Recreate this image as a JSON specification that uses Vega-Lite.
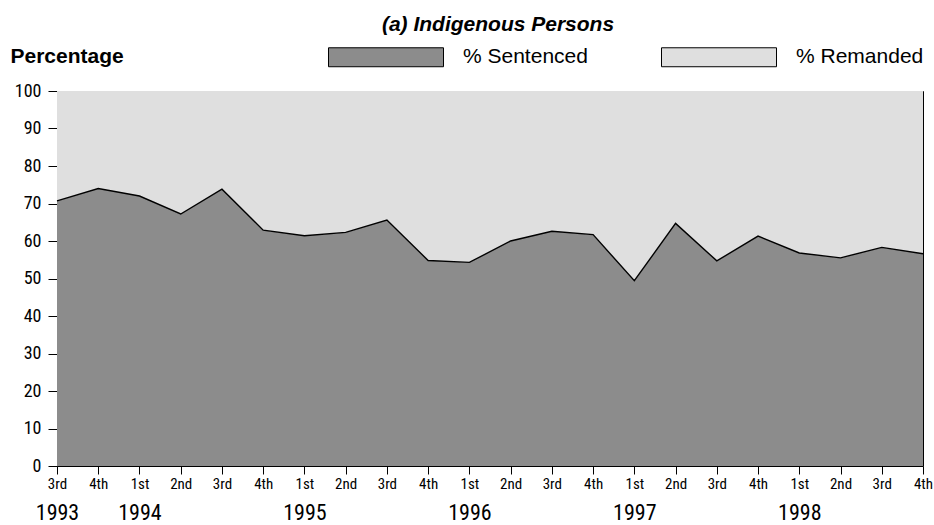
{
  "$schema": "https://vega.github.io/schema/vega-lite/v6.json",
  "width": 866,
  "height": 375,
  "autosize": {"type": "none"},
  "padding": {"left": 57, "top": 91, "right": 11, "bottom": 59},
  "background": "white",
  "view": {"stroke": null},
  "title": {
    "text": "(a) Indigenous Persons",
    "font": "Liberation Sans",
    "fontSize": 21,
    "fontWeight": "bold",
    "fontStyle": "italic",
    "color": "black",
    "anchor": "middle",
    "frame": "group",
    "baseline": "alphabetic",
    "dx": 8,
    "dy": 57
  },
  "config": {
    "view": {"stroke": null},
    "axis": {
      "labelFont": "Roboto Condensed, Roboto",
      "labelColor": "black",
      "tickColor": "black",
      "domainColor": "black",
      "domainWidth": 1,
      "grid": false,
      "zindex": 1
    }
  },
  "data": {
    "values": [
      {"period": "1993 3rd", "series": "% Sentenced", "pct": 70.7},
      {"period": "1993 4th", "series": "% Sentenced", "pct": 74.0},
      {"period": "1994 1st", "series": "% Sentenced", "pct": 72.0},
      {"period": "1994 2nd", "series": "% Sentenced", "pct": 67.2},
      {"period": "1994 3rd", "series": "% Sentenced", "pct": 73.8},
      {"period": "1994 4th", "series": "% Sentenced", "pct": 62.9},
      {"period": "1995 1st", "series": "% Sentenced", "pct": 61.4},
      {"period": "1995 2nd", "series": "% Sentenced", "pct": 62.3},
      {"period": "1995 3rd", "series": "% Sentenced", "pct": 65.6},
      {"period": "1995 4th", "series": "% Sentenced", "pct": 54.8},
      {"period": "1996 1st", "series": "% Sentenced", "pct": 54.3},
      {"period": "1996 2nd", "series": "% Sentenced", "pct": 60.0},
      {"period": "1996 3rd", "series": "% Sentenced", "pct": 62.6},
      {"period": "1996 4th", "series": "% Sentenced", "pct": 61.7},
      {"period": "1997 1st", "series": "% Sentenced", "pct": 49.4},
      {"period": "1997 2nd", "series": "% Sentenced", "pct": 64.7},
      {"period": "1997 3rd", "series": "% Sentenced", "pct": 54.7},
      {"period": "1997 4th", "series": "% Sentenced", "pct": 61.3},
      {"period": "1998 1st", "series": "% Sentenced", "pct": 56.8},
      {"period": "1998 2nd", "series": "% Sentenced", "pct": 55.5},
      {"period": "1998 3rd", "series": "% Sentenced", "pct": 58.3},
      {"period": "1998 4th", "series": "% Sentenced", "pct": 56.6},
      {"period": "1993 3rd", "series": "% Remanded", "pct": 29.3},
      {"period": "1993 4th", "series": "% Remanded", "pct": 26.0},
      {"period": "1994 1st", "series": "% Remanded", "pct": 28.0},
      {"period": "1994 2nd", "series": "% Remanded", "pct": 32.8},
      {"period": "1994 3rd", "series": "% Remanded", "pct": 26.2},
      {"period": "1994 4th", "series": "% Remanded", "pct": 37.1},
      {"period": "1995 1st", "series": "% Remanded", "pct": 38.6},
      {"period": "1995 2nd", "series": "% Remanded", "pct": 37.7},
      {"period": "1995 3rd", "series": "% Remanded", "pct": 34.4},
      {"period": "1995 4th", "series": "% Remanded", "pct": 45.2},
      {"period": "1996 1st", "series": "% Remanded", "pct": 45.7},
      {"period": "1996 2nd", "series": "% Remanded", "pct": 40.0},
      {"period": "1996 3rd", "series": "% Remanded", "pct": 37.4},
      {"period": "1996 4th", "series": "% Remanded", "pct": 38.3},
      {"period": "1997 1st", "series": "% Remanded", "pct": 50.6},
      {"period": "1997 2nd", "series": "% Remanded", "pct": 35.3},
      {"period": "1997 3rd", "series": "% Remanded", "pct": 45.3},
      {"period": "1997 4th", "series": "% Remanded", "pct": 38.7},
      {"period": "1998 1st", "series": "% Remanded", "pct": 43.2},
      {"period": "1998 2nd", "series": "% Remanded", "pct": 44.5},
      {"period": "1998 3rd", "series": "% Remanded", "pct": 41.7},
      {"period": "1998 4th", "series": "% Remanded", "pct": 43.4}
    ]
  },
  "layer": [
    {
      "mark": {"type": "area", "opacity": 1},
      "encoding": {
        "x": {
          "field": "period",
          "type": "ordinal",
          "sort": null,
          "scale": {"type": "point", "padding": 0},
          "axis": {
            "orient": "bottom",
            "title": null,
            "labelAngle": 0,
            "labelFontSize": 15,
            "labelPadding": 2,
            "tickSize": 8,
            "labelExpr": "split(datum.value, ' ')[1]"
          }
        },
        "y": {
          "field": "pct",
          "type": "quantitative",
          "stack": "zero",
          "scale": {"domain": [0, 100], "nice": false},
          "axis": {
            "orient": "left",
            "values": [0, 10, 20, 30, 40, 50, 60, 70, 80, 90, 100],
            "labelFontSize": 18,
            "labelPadding": 7,
            "tickSize": 9,
            "title": "Percentage",
            "titleFont": "Liberation Sans",
            "titleFontSize": 21,
            "titleFontWeight": "bold",
            "titleColor": "black",
            "titleAngle": 0,
            "titleAlign": "left",
            "titleBaseline": "alphabetic",
            "titleX": -47,
            "titleY": -29
          }
        },
        "color": {
          "field": "series",
          "type": "nominal",
          "scale": {"domain": ["% Sentenced", "% Remanded"], "range": ["#8c8c8c", "#dfdfdf"]},
          "legend": {
            "title": null,
            "orient": "none",
            "direction": "horizontal",
            "legendX": 271,
            "legendY": -92,
            "padding": 0,
            "symbolType": "M-1,-0.165H1V0.165H-1Z",
            "symbolSize": 13225,
            "symbolStrokeColor": "black",
            "symbolStrokeWidth": 1,
            "symbolOpacity": 1,
            "labelFont": "Liberation Sans",
            "labelFontSize": 21,
            "labelColor": "black",
            "labelOffset": 19,
            "columnPadding": 71,
            "labelLimit": 300,
            "encode": {
              "symbols": {
                "update": {
                  "stroke": {"value": "black"},
                  "strokeWidth": {"value": 1},
                  "opacity": {"value": 1}
                }
              }
            }
          }
        },
        "order": {"field": "series", "sort": "descending"}
      }
    },
    {
      "transform": [{"filter": "datum.series == '% Sentenced'"}],
      "mark": {"type": "line", "color": "black", "strokeWidth": 1.4},
      "encoding": {
        "x": {
          "field": "period",
          "type": "ordinal",
          "sort": null,
          "axis": {
            "orient": "top",
            "title": null,
            "labels": false,
            "ticks": false,
            "domain": true
          }
        },
        "y": {
          "field": "pct",
          "type": "quantitative",
          "axis": {
            "orient": "right",
            "title": null,
            "labels": false,
            "ticks": false,
            "domain": true
          }
        }
      }
    },
    {
      "mark": {"type": "point", "opacity": 0},
      "encoding": {
        "x": {
          "field": "period",
          "type": "ordinal",
          "sort": null,
          "axis": {
            "orient": "bottom",
            "title": null,
            "labelAngle": 0,
            "labelFontSize": 22,
            "labelPadding": 36,
            "ticks": false,
            "domain": false,
            "labelOverlap": false,
            "labelExpr": "(split(datum.value, ' ')[1] == '1st' || datum.value == '1993 3rd') ? split(datum.value, ' ')[0] : ''"
          }
        }
      }
    }
  ],
  "resolve": {"axis": {"x": "independent", "y": "independent"}}
}
